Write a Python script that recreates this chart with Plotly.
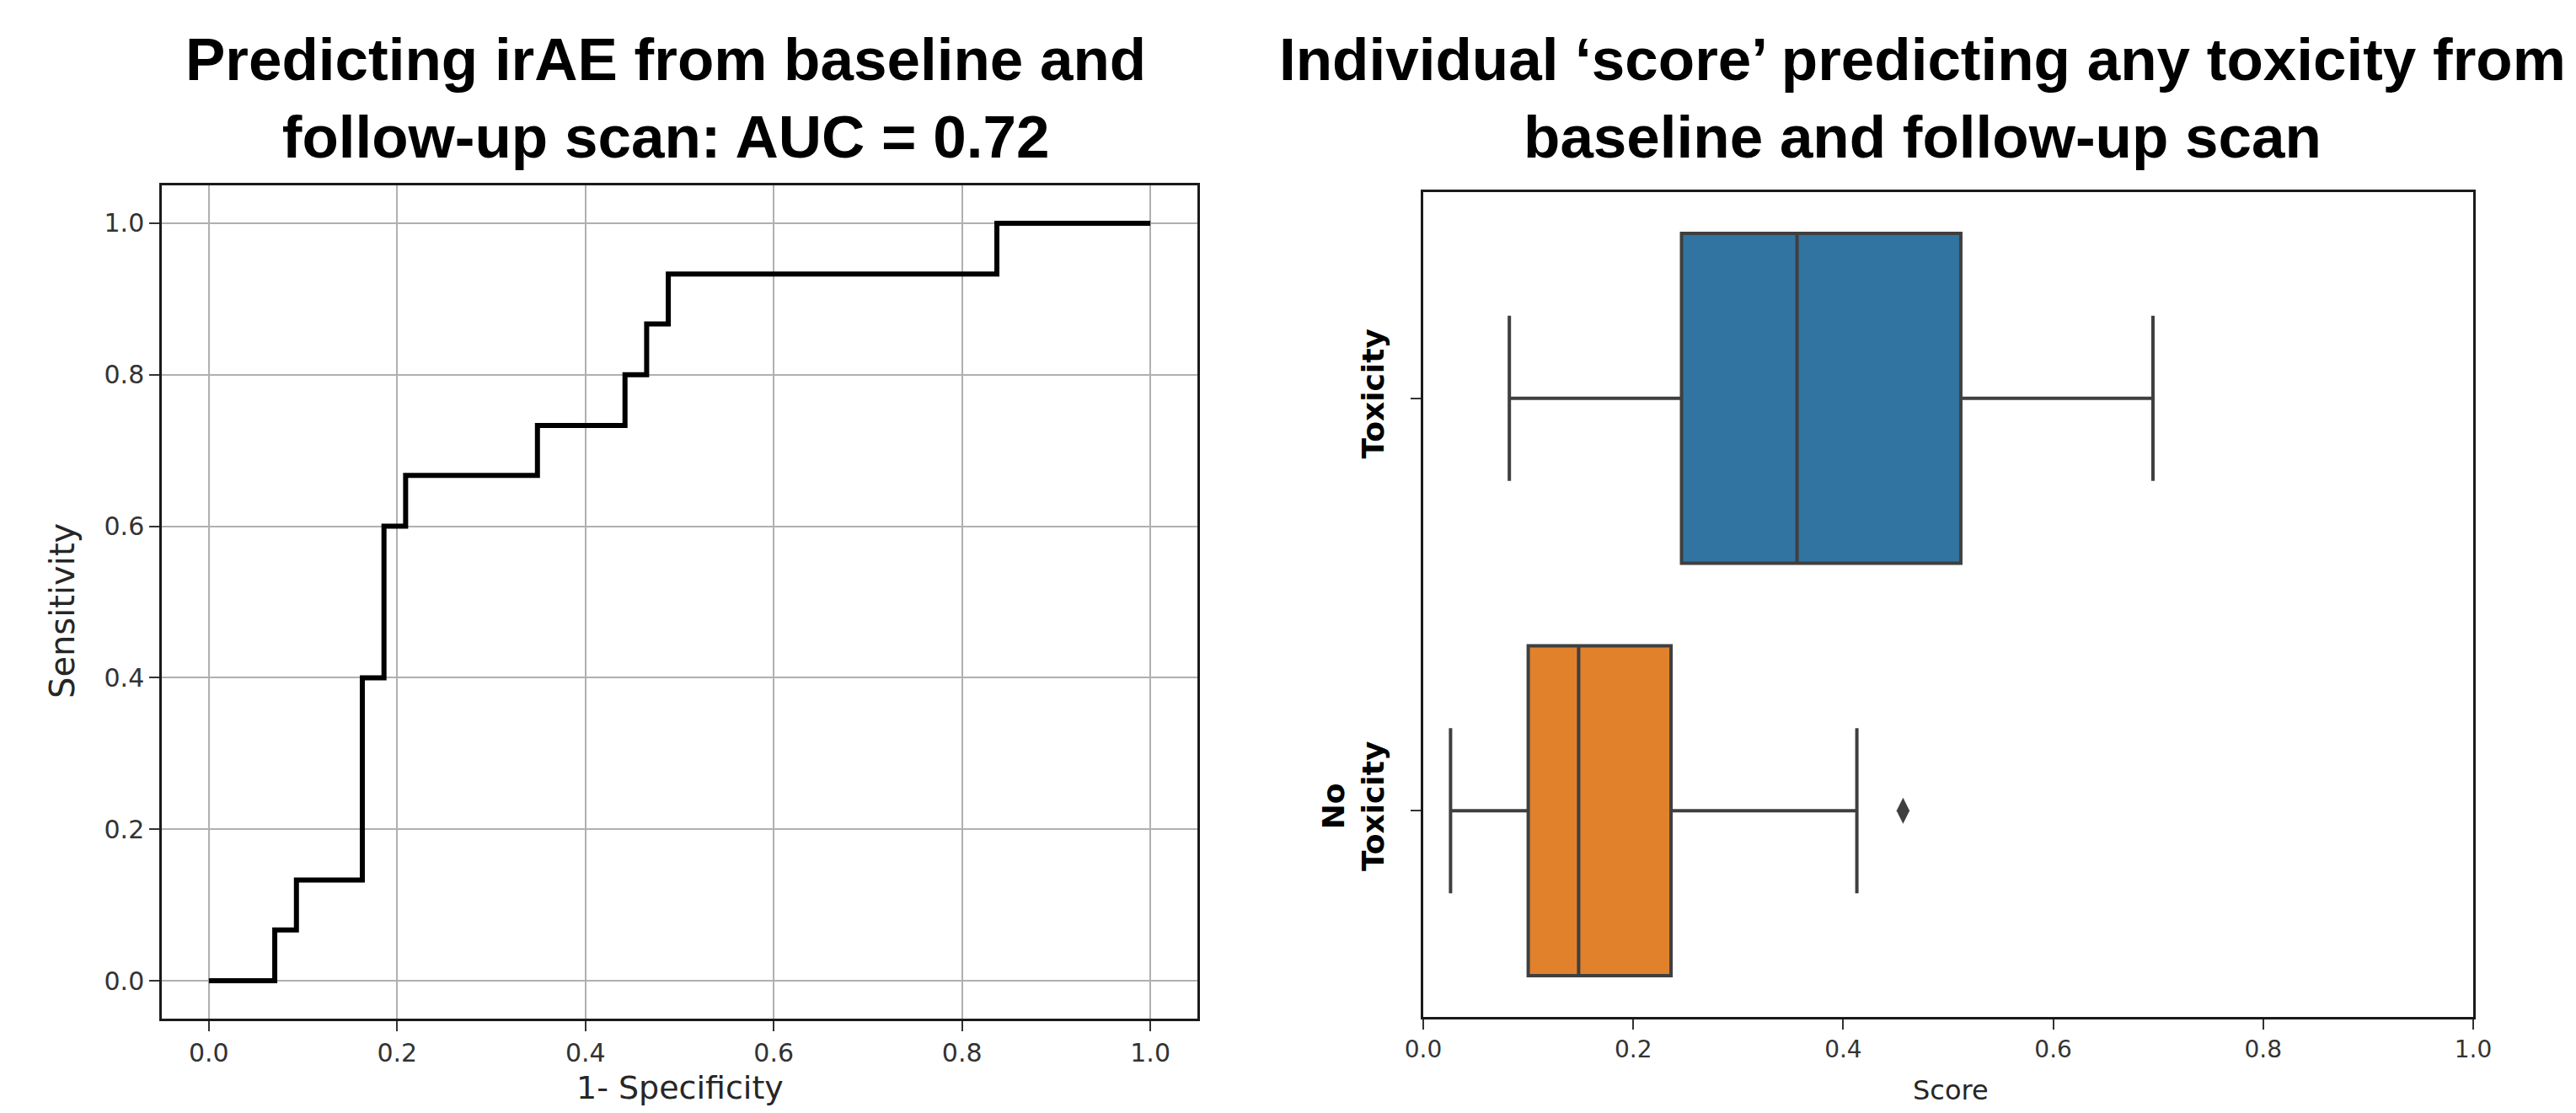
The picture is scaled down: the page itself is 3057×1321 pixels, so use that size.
import plotly.graph_objects as go

W, H = 3057, 1321

# ---------------- data ----------------
# ROC curve (corner points of the step curve)
roc_fpr = [0.0, 0.070, 0.093, 0.163, 0.186, 0.209, 0.349, 0.442, 0.465, 0.488, 0.837, 1.0]
roc_tpr = [0.0, 0.067, 0.133, 0.400, 0.600, 0.667, 0.733, 0.800, 0.867, 0.933, 1.000, 1.0]
roc_ticks = [0.0, 0.2, 0.4, 0.6, 0.8, 1.0]

# Box plot summary statistics
categories = ["Toxicity", "No Toxicity"]
category_labels = ["Toxicity", "No<br>Toxicity"]
box_low = [0.082, 0.026]
box_q1 = [0.246, 0.100]
box_median = [0.356, 0.148]
box_q3 = [0.512, 0.236]
box_high = [0.695, 0.413]
outlier_category = ["No Toxicity"]
outlier_score = [0.457]
box_colors = ["#3274a1", "#e1812c"]
score_ticks = [0.0, 0.2, 0.4, 0.6, 0.8, 1.0]

left_title = "<b>Predicting irAE from baseline and<br>follow-up scan: AUC = 0.72</b>"
right_title = "<b>Individual \u2018score\u2019 predicting any toxicity from<br>baseline and follow-up scan</b>"


def px(p):
    return p / W


def py(p):
    return 1 - p / H


fig = go.Figure()

fig.add_trace(go.Scatter(
    x=roc_fpr, y=roc_tpr, mode="lines", line=dict(color="black", width=6, shape="hv"),
    xaxis="x", yaxis="y", showlegend=False, hoverinfo="skip"))

for i in range(len(categories)):
    fig.add_trace(go.Box(
        y=[categories[i]], q1=[box_q1[i]], median=[box_median[i]], q3=[box_q3[i]],
        lowerfence=[box_low[i]], upperfence=[box_high[i]], orientation="h",
        fillcolor=box_colors[i], line=dict(color="#3f3f3f", width=4),
        width=0.8, whiskerwidth=0.5, boxpoints=False,
        xaxis="x2", yaxis="y2", showlegend=False))

fig.add_trace(go.Scatter(
    x=outlier_score, y=outlier_category, mode="markers",
    marker=dict(symbol="diamond-tall", size=22, color="#3f3f3f"),
    xaxis="x2", yaxis="y2", showlegend=False))

tick_font = dict(family="DejaVu Sans", size=30, color="#333333")

fig.update_layout(
    width=W, height=H, margin=dict(l=0, r=0, t=0, b=0, autoexpand=False),
    paper_bgcolor="white", plot_bgcolor="white", boxmode="overlay",
    xaxis=dict(domain=[px(192), px(1421)], range=[-0.05, 1.05], anchor="y", automargin=False,
               tickvals=roc_ticks, tickformat=".1f", showgrid=True, gridcolor="#b0b0b0",
               gridwidth=2, zeroline=False, showline=True, mirror=True, linecolor="#1a1a1a",
               linewidth=2.5, ticks="outside", ticklen=12, tickwidth=2, tickcolor="#333333",
               tickfont=tick_font),
    yaxis=dict(domain=[py(1209), py(220)], range=[-0.05, 1.05], anchor="x", automargin=False,
               tickvals=roc_ticks, tickformat=".1f", showgrid=True, gridcolor="#b0b0b0",
               gridwidth=2, zeroline=False, showline=True, mirror=True, linecolor="#1a1a1a",
               linewidth=2.5, ticks="outside", ticklen=12, tickwidth=2, tickcolor="#333333",
               tickfont=tick_font),
    xaxis2=dict(domain=[px(1689), px(2935)], range=[0, 1], anchor="y2", automargin=False,
                tickvals=score_ticks, tickformat=".1f", showgrid=False, zeroline=False,
                showline=True, mirror=True, linecolor="#1a1a1a", linewidth=2.5,
                ticks="outside", ticklen=12, tickwidth=2, tickcolor="#333333",
                tickfont=dict(family="DejaVu Sans", size=28, color="#333333")),
    yaxis2=dict(domain=[py(1207), py(228)], anchor="x2", type="category", automargin=False,
                categoryorder="array", categoryarray=categories, range=[1.5, -0.5],
                tickvals=categories, ticktext=category_labels, tickangle=-90,
                showgrid=False, zeroline=False, showline=True, mirror=True,
                linecolor="#1a1a1a", linewidth=2.5, ticks="outside", ticklen=12,
                tickwidth=2, tickcolor="#333333", ticklabelstandoff=18,
                tickfont=dict(family="DejaVu Sans", size=36, color="black", weight=700)),
)

annotations = [
    dict(text=left_title, x=px(790), y=py(117), font=dict(family="Liberation Sans", size=71, color="black")),
    dict(text=right_title, x=px(2281), y=py(117), font=dict(family="Liberation Sans", size=71, color="black")),
    dict(text="Sensitivity", x=px(74), y=py(725), textangle=-90,
         font=dict(family="DejaVu Sans", size=40, color="#262626")),
    dict(text="1- Specificity", x=px(807), y=py(1291),
         font=dict(family="DejaVu Sans", size=38, color="#262626")),
    dict(text="Score", x=px(2315), y=py(1294),
         font=dict(family="DejaVu Sans", size=32, color="#262626")),
]
for a in annotations:
    a.update(xref="paper", yref="paper", showarrow=False, xanchor="center", yanchor="middle")
fig.update_layout(annotations=annotations)

fig.write_html("out.html", config={"displayModeBar": False},
               post_script="document.body.style.margin='0';document.body.style.overflow='hidden';")
